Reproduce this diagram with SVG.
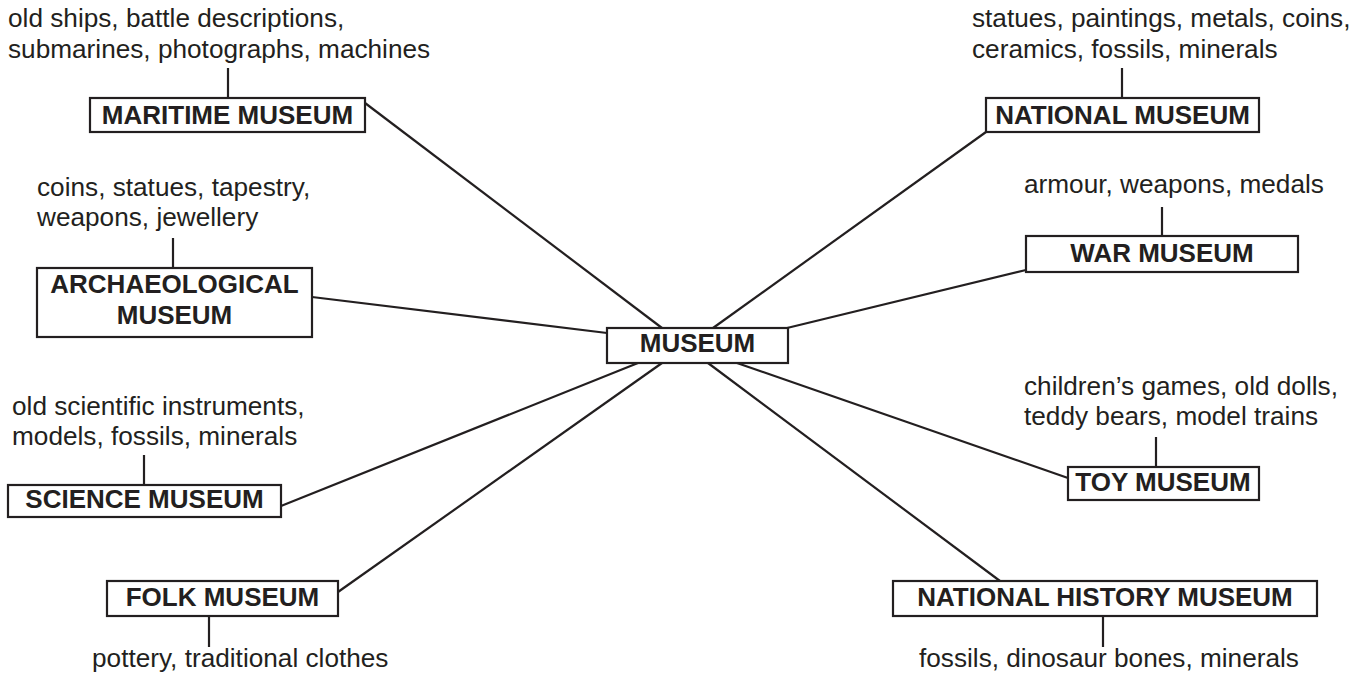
<svg xmlns="http://www.w3.org/2000/svg" width="1364" height="677" viewBox="0 0 1364 677">
<style>
.box{fill:#fff;stroke:#231f20;stroke-width:2.2}
.stem,.conn{stroke:#231f20;stroke-width:2.2;fill:none}
.lbl{font-family:"Liberation Sans",Arial,sans-serif;font-weight:bold;font-size:26px;fill:#231f20;text-anchor:middle}
.desc{font-family:"Liberation Sans",Arial,sans-serif;font-size:26.2px;fill:#231f20}
</style>
<rect width="1364" height="677" fill="#fff"/>
<g id="connectors">
<line class="conn" x1="365" y1="103" x2="662" y2="328"/>
<line class="conn" x1="986" y1="132" x2="713" y2="328"/>
<line class="conn" x1="312" y1="297" x2="607" y2="333"/>
<line class="conn" x1="1026" y1="270" x2="787" y2="328"/>
<line class="conn" x1="281" y1="506" x2="638" y2="363"/>
<line class="conn" x1="338" y1="592" x2="662" y2="363"/>
<line class="conn" x1="1000" y1="581" x2="708" y2="363"/>
<line class="conn" x1="1068" y1="478" x2="737" y2="363"/>
</g>
<g id="museum">
<rect class="box" x="607" y="328" width="181" height="35"/>
<text class="lbl" x="697.5" y="352">MUSEUM</text>
</g>
<g id="maritime">
<text class="desc" x="8" y="27">old ships, battle descriptions,</text>
<text class="desc" x="8" y="58">submarines, photographs, machines</text>
<line class="stem" x1="228" y1="68" x2="228" y2="98"/>
<rect class="box" x="90" y="98" width="275" height="34"/>
<text class="lbl" x="227.5" y="124">MARITIME MUSEUM</text>
</g>
<g id="national">
<text class="desc" x="972" y="27">statues, paintings, metals, coins,</text>
<text class="desc" x="972" y="58">ceramics, fossils, minerals</text>
<line class="stem" x1="1122" y1="68" x2="1122" y2="98"/>
<rect class="box" x="986" y="98" width="273" height="34"/>
<text class="lbl" x="1122.5" y="124">NATIONAL MUSEUM</text>
</g>
<g id="archaeological">
<text class="desc" x="37" y="196">coins, statues, tapestry,</text>
<text class="desc" x="37" y="226">weapons, jewellery</text>
<line class="stem" x1="173" y1="238" x2="173" y2="268"/>
<rect class="box" x="37" y="268" width="275" height="69"/>
<text class="lbl" x="174.5" y="293">ARCHAEOLOGICAL</text>
<text class="lbl" x="174.5" y="324">MUSEUM</text>
</g>
<g id="war">
<text class="desc" x="1024" y="193">armour, weapons, medals</text>
<line class="stem" x1="1162" y1="207" x2="1162" y2="236"/>
<rect class="box" x="1026" y="236" width="272" height="36"/>
<text class="lbl" x="1162" y="262">WAR MUSEUM</text>
</g>
<g id="science">
<text class="desc" x="12" y="415">old scientific instruments,</text>
<text class="desc" x="12" y="445">models, fossils, minerals</text>
<line class="stem" x1="144" y1="455" x2="144" y2="485"/>
<rect class="box" x="8" y="485" width="273" height="32"/>
<text class="lbl" x="144.5" y="508">SCIENCE MUSEUM</text>
</g>
<g id="toy">
<text class="desc" x="1024" y="395">children’s games, old dolls,</text>
<text class="desc" x="1024" y="425">teddy bears, model trains</text>
<line class="stem" x1="1156" y1="437" x2="1156" y2="467"/>
<rect class="box" x="1068" y="467" width="191" height="33"/>
<text class="lbl" x="1163" y="491">TOY MUSEUM</text>
</g>
<g id="folk">
<rect class="box" x="107" y="581" width="231" height="35"/>
<text class="lbl" x="222.5" y="606">FOLK MUSEUM</text>
<line class="stem" x1="209" y1="616" x2="209" y2="647"/>
<text class="desc" x="92" y="667">pottery, traditional clothes</text>
</g>
<g id="natural-history">
<rect class="box" x="893" y="581" width="424" height="35"/>
<text class="lbl" x="1105" y="606">NATIONAL HISTORY MUSEUM</text>
<line class="stem" x1="1103" y1="616" x2="1103" y2="647"/>
<text class="desc" x="919" y="667">fossils, dinosaur bones, minerals</text>
</g>
</svg>
